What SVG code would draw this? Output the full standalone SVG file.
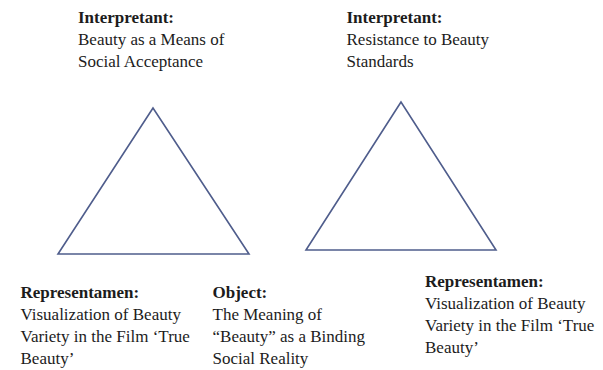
<svg xmlns="http://www.w3.org/2000/svg" width="603" height="370" viewBox="0 0 603 370">
<style>
  .tri { fill: none; stroke: #4f5d8c; stroke-width: 1.6; stroke-linejoin: miter; }
</style>
<rect width="603" height="370" fill="#ffffff"/>
<g id="connectors">
  <polygon class="tri" points="153,108 58,254 249,254"/>
  <polygon class="tri" points="401,102 306,250 496,250"/>
</g>
<g id="interpretant-left">
  <text x="78" y="22.5" font-family="Liberation Serif" font-size="17" font-weight="bold" fill="#1c1c1c">Interpretant:</text>
  <text x="78" y="45" font-family="Liberation Serif" font-size="17" fill="#1c1c1c">Beauty as a Means of</text>
  <text x="78" y="67" font-family="Liberation Serif" font-size="17" fill="#1c1c1c">Social Acceptance</text>
</g>
<g id="interpretant-right">
  <text x="346.5" y="22.5" font-family="Liberation Serif" font-size="17" font-weight="bold" fill="#1c1c1c">Interpretant:</text>
  <text x="346.5" y="45" font-family="Liberation Serif" font-size="17" fill="#1c1c1c">Resistance to Beauty</text>
  <text x="346.5" y="67" font-family="Liberation Serif" font-size="17" fill="#1c1c1c">Standards</text>
</g>
<g id="representamen-left">
  <text x="20.5" y="297.5" font-family="Liberation Serif" font-size="17" font-weight="bold" fill="#1c1c1c">Representamen:</text>
  <text x="20.5" y="319.5" font-family="Liberation Serif" font-size="17" fill="#1c1c1c">Visualization of Beauty</text>
  <text x="20.5" y="341.5" font-family="Liberation Serif" font-size="17" fill="#1c1c1c">Variety in the Film ‘True</text>
  <text x="20.5" y="363.5" font-family="Liberation Serif" font-size="17" fill="#1c1c1c">Beauty’</text>
</g>
<g id="object-left">
  <text x="212.5" y="297.5" font-family="Liberation Serif" font-size="17" font-weight="bold" fill="#1c1c1c">Object:</text>
  <text x="212.5" y="319.5" font-family="Liberation Serif" font-size="17" fill="#1c1c1c">The Meaning of</text>
  <text x="212.5" y="341.5" font-family="Liberation Serif" font-size="17" fill="#1c1c1c">“Beauty” as a Binding</text>
  <text x="212.5" y="363.5" font-family="Liberation Serif" font-size="17" fill="#1c1c1c">Social Reality</text>
</g>
<g id="representamen-right">
  <text x="425" y="287" font-family="Liberation Serif" font-size="17" font-weight="bold" fill="#1c1c1c">Representamen:</text>
  <text x="425" y="309" font-family="Liberation Serif" font-size="17" fill="#1c1c1c">Visualization of Beauty</text>
  <text x="425" y="331" font-family="Liberation Serif" font-size="17" fill="#1c1c1c">Variety in the Film ‘True</text>
  <text x="425" y="353" font-family="Liberation Serif" font-size="17" fill="#1c1c1c">Beauty’</text>
</g>
</svg>
